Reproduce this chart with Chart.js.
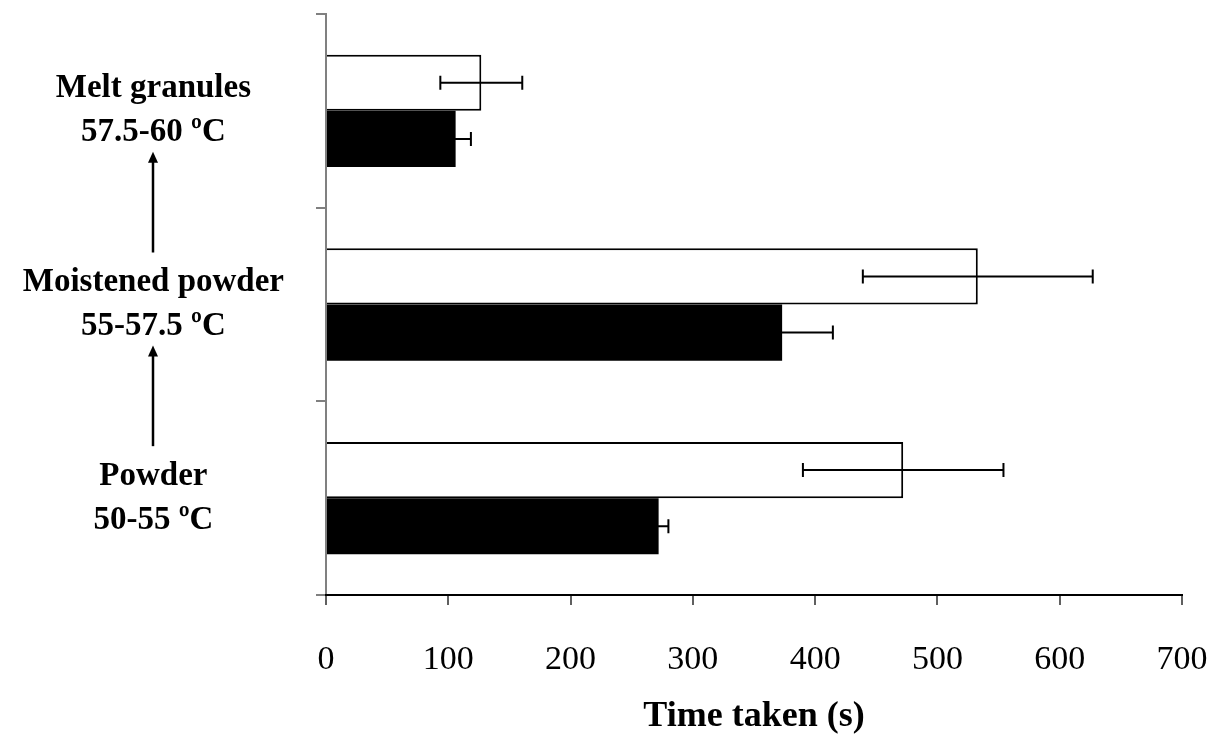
<!DOCTYPE html>
<html>
<head>
<meta charset="utf-8">
<script src="https://cdn.jsdelivr.net/npm/chart.js@4"></script>
<style>
  html, body { margin: 0; padding: 0; background: #ffffff; }
  #wrap { width: 1218px; height: 737px; }
</style>
</head>
<body>
<div id="wrap"><canvas id="c" width="1218" height="737"></canvas></div>
<script>
// Granulation stages, top to bottom
const stages = [
  ['Melt granules', '57.5-60 ºC'],
  ['Moistened powder', '55-57.5 ºC'],
  ['Powder', '50-55 ºC']
];
// Open (white) bars: mean time and error
const openValues = [127, 533, 472];
const openErrors = [33.5, 94, 82];
// Solid (black) bars: mean time and error
const solidValues = [106, 373, 272];
const solidErrors = [12.5, 41.5, 8];
// Time axis
const timeMin = 0;
const timeMax = 700;
const timeStep = 100;

const SERIF = "'Liberation Serif', 'Times New Roman', serif";
const LABEL_PAD = 32;
const TICK_LEN = 10;

// Error bars drawn on top of each bar
const errorBars = {
  id: 'errorBars',
  afterDatasetsDraw(chart) {
    const ctx = chart.ctx;
    const x = chart.scales.x;
    chart.data.datasets.forEach((ds, di) => {
      const meta = chart.getDatasetMeta(di);
      meta.data.forEach((bar, i) => {
        const v = ds.data[i];
        const e = ds.errors[i];
        const x1 = x.getPixelForValue(v - e);
        const x2 = x.getPixelForValue(v + e);
        const y = bar.y;
        ctx.save();
        ctx.strokeStyle = '#000';
        ctx.lineWidth = 2;
        ctx.beginPath();
        ctx.moveTo(x1, y); ctx.lineTo(x2, y);
        ctx.moveTo(x1, y - 7); ctx.lineTo(x1, y + 7);
        ctx.moveTo(x2, y - 7); ctx.lineTo(x2, y + 7);
        ctx.stroke();
        ctx.restore();
      });
    });
  }
};

// Upward arrows linking the stage labels
const stageArrows = {
  id: 'stageArrows',
  afterDraw(chart) {
    const ctx = chart.ctx;
    const y = chart.scales.y;
    ctx.save();
    ctx.font = 'bold 33px ' + SERIF;
    let widest = 0;
    stages.forEach(lines => lines.forEach(t => { widest = Math.max(widest, ctx.measureText(t).width); }));
    const cx = Math.round(y.right - TICK_LEN - LABEL_PAD - widest / 2);
    ctx.strokeStyle = '#000';
    ctx.fillStyle = '#000';
    ctx.lineWidth = 2.5;
    for (let i = 0; i < stages.length - 1; i++) {
      const tip = y.getPixelForValue(i) + 41;
      const tail = y.getPixelForValue(i + 1) - 52;
      ctx.beginPath();
      ctx.moveTo(cx, tail);
      ctx.lineTo(cx, tip + 8);
      ctx.stroke();
      ctx.beginPath();
      ctx.moveTo(cx, tip);
      ctx.lineTo(cx - 5, tip + 11);
      ctx.lineTo(cx + 5, tip + 11);
      ctx.closePath();
      ctx.fill();
    }
    ctx.restore();
  }
};

new Chart(document.getElementById('c'), {
  type: 'bar',
  data: {
    labels: stages,
    datasets: [
      {
        data: openValues,
        errors: openErrors,
        backgroundColor: '#ffffff',
        borderColor: '#000000',
        borderWidth: 2,
        borderSkipped: 'start'
      },
      {
        data: solidValues,
        errors: solidErrors,
        backgroundColor: '#000000',
        borderColor: '#000000',
        borderWidth: 0
      }
    ]
  },
  options: {
    indexAxis: 'y',
    responsive: false,
    animation: false,
    devicePixelRatio: 1,
    categoryPercentage: 0.58,
    barPercentage: 1,
    layout: { padding: { top: 14, right: 36, bottom: 0, left: 0 } },
    plugins: {
      legend: { display: false },
      tooltip: { enabled: false }
    },
    scales: {
      y: {
        grid: {
          drawOnChartArea: false,
          drawTicks: true,
          tickLength: TICK_LEN,
          color: '#808080',
          lineWidth: 2
        },
        border: { display: true, color: '#808080', width: 2 },
        ticks: {
          color: '#000',
          crossAlign: 'center',
          padding: LABEL_PAD,
          font: { family: SERIF, size: 33, weight: 'bold', lineHeight: 1.34 }
        },
        afterFit(scale) {
          scale.width = 326;
          scale.paddingTop = 0;
          scale.paddingBottom = 0;
        }
      },
      x: {
        min: timeMin,
        max: timeMax,
        grid: {
          drawOnChartArea: false,
          drawTicks: true,
          tickLength: TICK_LEN,
          color: '#606060',
          lineWidth: 2
        },
        border: { display: true, color: '#000', width: 2 },
        ticks: {
          stepSize: timeStep,
          color: '#000',
          padding: 35,
          maxRotation: 0,
          font: { family: SERIF, size: 34 }
        },
        title: {
          display: true,
          text: 'Time taken (s)',
          color: '#000',
          padding: { top: 0, bottom: 0 },
          font: { family: SERIF, size: 36, weight: 'bold', lineHeight: 1.1 }
        },
        afterFit(scale) {
          scale.height = 142;
          scale.paddingLeft = 0;
          scale.paddingRight = 0;
        }
      }
    }
  },
  plugins: [errorBars, stageArrows]
});
</script>
</body>
</html>
